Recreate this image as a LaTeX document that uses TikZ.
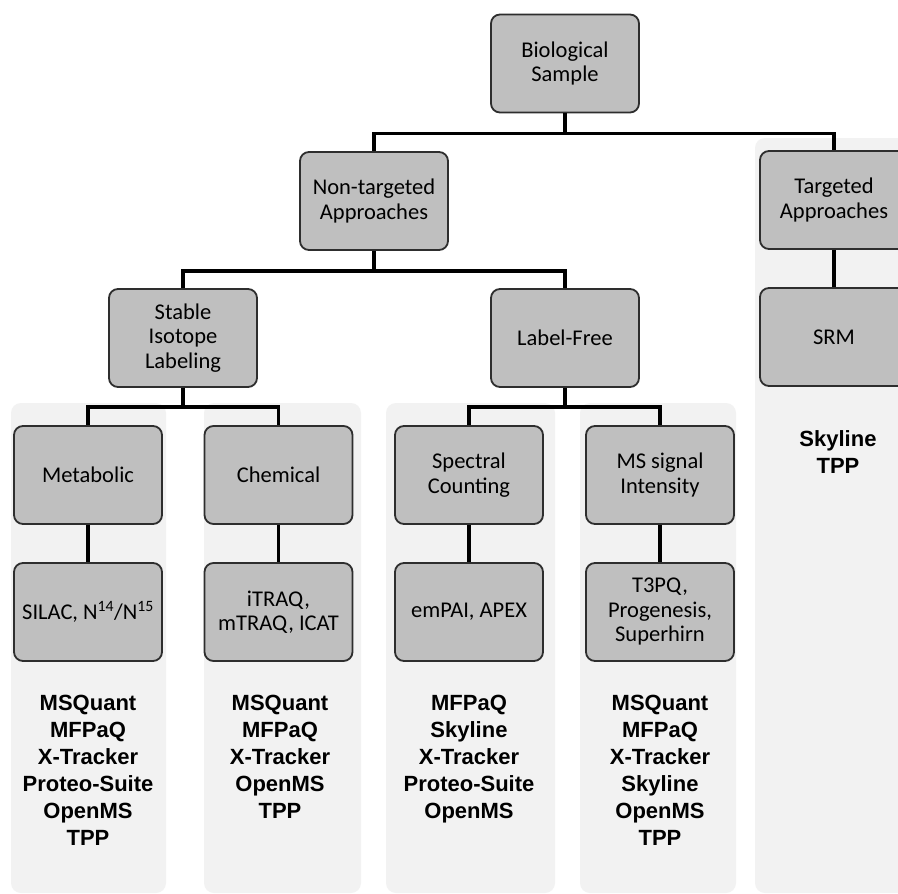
\documentclass[tikz,border=0pt]{standalone}
\usepackage{fontspec}
\setmainfont{Carlito}
\newfontfamily\listfont{Liberation Sans}
\definecolor{boxfill}{HTML}{BFBFBF}
\definecolor{boxline}{HTML}{2E2E2E}
\definecolor{panelfill}{HTML}{F2F2F2}
\tikzset{
  catbox/.style={draw=boxline, line width=1.8pt, fill=boxfill, rounded corners=9pt,
    minimum width=148pt, minimum height=98pt, align=center, inner sep=2pt,
    font=\fontsize{22.5}{24.5}\selectfont, text=black},
  panel/.style={fill=panelfill, draw=none, rounded corners=10pt},
  link/.style={draw=black, line width=3.5pt},
  toollist/.style={anchor=north, align=center, inner sep=0pt,
    font=\listfont\bfseries\fontsize{22}{27}\selectfont}
}
\begin{document}
\begin{tikzpicture}[x=1pt,y=-1pt]
\useasboundingbox (0,0) rectangle (898,894);
\fill[white] (0,0) rectangle (898,894);
% panels
\path[panel] (11,403) rectangle (166,893);
\path[panel] (204,403) rectangle (361,893);
\path[panel] (386,403) rectangle (555,893);
\path[panel] (580,403) rectangle (736,893);
\path[panel] (755,138) rectangle (915,893);
% boxes
\node[catbox] (bio) at (565,63.5) {Biological\\Sample};
\node[catbox] (nont) at (374,201) {Non-targeted\\Approaches};
\node[catbox] (targ) at (834,200) {Targeted\\Approaches};
\node[catbox] (stable) at (183,338) {Stable\\Isotope\\Labeling};
\node[catbox] (lf) at (565,338) {Label-Free};
\node[catbox] (srm) at (834,337) {SRM};
\node[catbox] (met) at (88,475) {Metabolic};
\node[catbox] (chem) at (278.5,475) {Chemical};
\node[catbox] (spec) at (469,475) {Spectral\\Counting};
\node[catbox] (mss) at (660,475) {MS signal\\Intensity};
\node[catbox] (silac) at (88,612) {SILAC, N\textsuperscript{14}/N\textsuperscript{15}};
\node[catbox] (itraq) at (278.5,612) {iTRAQ,\\mTRAQ, ICAT};
\node[catbox] (empai) at (469,612) {emPAI, APEX};
\node[catbox] (t3pq) at (660,612) {T3PQ,\\Progenesis,\\Superhirn};
% connectors
\draw[link] (bio.south) -- ++(0,20) -| (nont.north);
\draw[link] (bio.south) -- ++(0,20) -| (targ.north);
\draw[link] (nont.south) -- ++(0,20) -| (stable.north);
\draw[link] (nont.south) -- ++(0,20) -| (lf.north);
\draw[link] (stable.south) -- ++(0,19) -| (met.north);
\draw[link] (stable.south) -- ++(0,19) -| (chem.north);
\draw[link] (lf.south) -- ++(0,19) -| (spec.north);
\draw[link] (lf.south) -- ++(0,19) -| (mss.north);
\draw[link] (targ.south) -- (srm.north);
\draw[link] (met.south) -- (silac.north);
\draw[link] (chem.south) -- (itraq.north);
\draw[link] (spec.south) -- (empai.north);
\draw[link] (mss.south) -- (t3pq.north);
% tool lists
\node[toollist] (l1) at (88,695) {MSQuant\\MFPaQ\\X-Tracker\\Proteo-Suite\\OpenMS\\TPP};
\node[toollist] (l2) at (280,695) {MSQuant\\MFPaQ\\X-Tracker\\OpenMS\\TPP};
\node[toollist] (l3) at (469,695) {MFPaQ\\Skyline\\X-Tracker\\Proteo-Suite\\OpenMS};
\node[toollist] (l4) at (660,695) {MSQuant\\MFPaQ\\X-Tracker\\Skyline\\OpenMS\\TPP};
\node[toollist] (l5) at (838,430) {Skyline\\TPP};
\end{tikzpicture}
\end{document}
